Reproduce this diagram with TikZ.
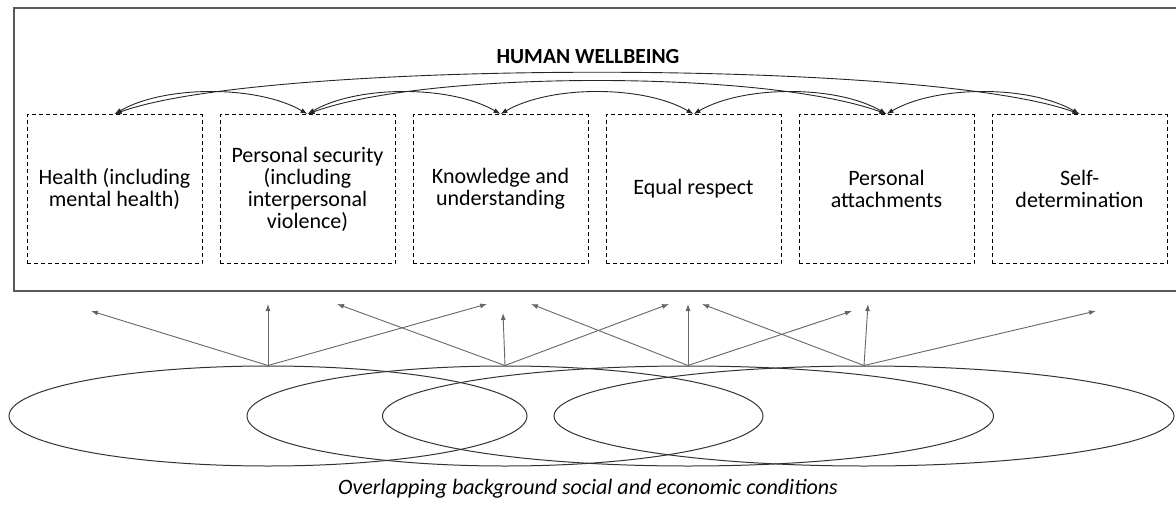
\documentclass[tikz,border=0pt]{standalone}
\usepackage{fontspec}
\setmainfont{Carlito}
\usetikzlibrary{arrows.meta,positioning,shapes.geometric}

\begin{document}
\begin{tikzpicture}[x=1pt, y=-1pt, >={Latex[length=7pt,width=5pt]}]
  % Styles
  \tikzstyle{dombox}=[draw, dash pattern=on 4pt off 3pt, line width=0.9pt, minimum width=175pt, minimum height=149pt, inner sep=0pt, align=center, font=\fontsize{22}{22}\selectfont]
  \tikzstyle{cond}=[draw=black!80, ellipse, inner sep=0pt, line width=1pt]
  \tikzstyle{link}=[<->, draw=black!85, line width=0.9pt]
  \tikzstyle{lift}=[->, draw=black!60, line width=0.9pt]

  \useasboundingbox (0,0) rectangle (1176,506);

  % Outer frame and title
  \draw[draw=black!65, line width=1.5pt] (14,8) rectangle (1177,291);
  \node[font=\bfseries\fontsize{21.5}{24}\selectfont] (title) at (588,57) {HUMAN WELLBEING};

  % Wellbeing domains
  \node[dombox] (health) at (114.5,189) {Health (including\\mental health)};
  \node[dombox] (security) at (307.5,189) {Personal security\\(including\\interpersonal\\violence)};
  \node[dombox] (knowledge) at (500.5,189) {Knowledge and\\understanding};
  \node[dombox] (respect) at (693.5,189) {Equal respect};
  \node[dombox] (attach) at (886.5,189) {Personal\\attachments};
  \node[dombox] (selfdet) at (1079.5,189) {Self-\\determination};

  % Links between neighbouring domains
  \draw[link] (health.north) .. controls +(50,-29) and +(-50,-29) .. (security.north);
  \draw[link] (security.north) .. controls +(50,-29) and +(-50,-29) .. (knowledge.north);
  \draw[link] (knowledge.north) .. controls +(50,-29) and +(-50,-29) .. (respect.north);
  \draw[link] (respect.north) .. controls +(50,-29) and +(-50,-29) .. (attach.north);
  \draw[link] (attach.north) .. controls +(50,-29) and +(-50,-29) .. (selfdet.north);

  % Long links
  \draw[link] (health.north) .. controls +(150,-55) and +(-150,-55) .. (selfdet.north);
  \draw[link] (security.north) .. controls +(120,-44) and +(-120,-44) .. (attach.north);

  % Background conditions
  \node[cond, minimum width=518pt, minimum height=100pt] (cond1) at (268,416) {};
  \node[cond, minimum width=516pt, minimum height=100pt] (cond2) at (505,416) {};
  \node[cond, minimum width=611pt, minimum height=100pt] (cond3) at (688,416) {};
  \node[cond, minimum width=620pt, minimum height=100pt] (cond4) at (864,416) {};

  % Arrow ends
  \coordinate (a1) at (91,311);
  \coordinate (a2) at (268,304);
  \coordinate (a3) at (487,304);
  \coordinate (b1) at (337,304);
  \coordinate (b2) at (503,313);
  \coordinate (b3) at (669,304);
  \coordinate (c1) at (531,304);
  \coordinate (c2) at (688,304);
  \coordinate (c3) at (852,311);
  \coordinate (d1) at (702,304);
  \coordinate (d2) at (868,304);
  \coordinate (d3) at (1096,311);

  \draw[lift] (cond1.north) -- (a1);
  \draw[lift] (cond1.north) -- (a2);
  \draw[lift] (cond1.north) -- (a3);
  \draw[lift] (cond2.north) -- (b1);
  \draw[lift] (cond2.north) -- (b2);
  \draw[lift] (cond2.north) -- (b3);
  \draw[lift] (cond3.north) -- (c1);
  \draw[lift] (cond3.north) -- (c2);
  \draw[lift] (cond3.north) -- (c3);
  \draw[lift] (cond4.north) -- (d1);
  \draw[lift] (cond4.north) -- (d2);
  \draw[lift] (cond4.north) -- (d3);

  \node[font=\itshape\fontsize{22}{24}\selectfont] (caption) at (588,489) {Overlapping background social and economic conditions};
\end{tikzpicture}
\end{document}
